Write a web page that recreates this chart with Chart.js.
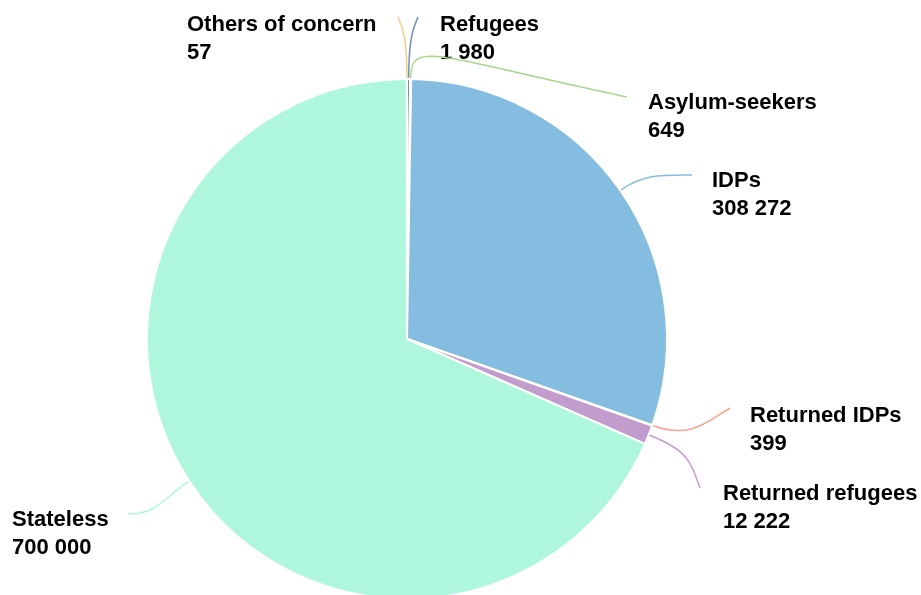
<!DOCTYPE html>
<html>
<head>
<meta charset="utf-8">
<script src="https://cdn.jsdelivr.net/npm/chart.js@4"></script>
<style>
  html, body { margin: 0; padding: 0; background: #fff; overflow: hidden; }
  canvas { display: block; }
</style>
</head>
<body>
<canvas id="pie" width="921" height="621"></canvas>
<script>
// population groups, clockwise from 12 o'clock
const categories = ['Refugees', 'Asylum-seekers', 'IDPs', 'Returned IDPs', 'Returned refugees', 'Stateless', 'Others of concern'];
const values = [1980, 649, 308272, 399, 12222, 700000, 57];
const colors = ['#7094b4', '#a8d68e', '#85bde0', '#f6a394', '#c29ccc', '#aef7dc', '#f3cf84'];

// where each label sits and how its leader line ends (layout only)
const labelLayout = [
    { tx: 440, ty: 31,  ex: 418, ey: 17,  dx: 0.45, dy: -1,  k1: 42, k2: 10 },
    { tx: 648, ty: 109, ex: 627, ey: 97,  dx: 0.98, dy: 0.21, k1: 38, k2: 200 },
    { tx: 712, ty: 187, ex: 692, ey: 175, dx: 1,    dy: 0,   k1: 28, k2: 30 },
    { tx: 750, ty: 422, ex: 730, ey: 408, dx: 1,    dy: -0.6, k1: 40, k2: 28 },
    { tx: 723, ty: 500, ex: 700, ey: 488, dx: 0.35, dy: 1,   k1: 40, k2: 30 },
    { tx: 12,  ty: 526, ex: 128, ey: 514, dx: -1,   dy: 0,   k1: 30, k2: 30 },
    { tx: 187, ty: 31,  ex: 398, ey: 17,  dx: -0.45, dy: -1, k1: 42, k2: 10 }
];

function fmt(n) {
    return String(n).replace(/\B(?=(\d{3})+(?!\d))/g, ' ');
}

const pieLabels = {
    id: 'pieLabels',
    afterDatasetsDraw(chart) {
        const ctx = chart.ctx;
        const meta = chart.getDatasetMeta(0);
        meta.data.forEach((arc, i) => {
            const p = arc.getProps(['x', 'y', 'startAngle', 'endAngle', 'outerRadius'], true);
            const mid = (p.startAngle + p.endAngle) / 2;
            const ux = Math.cos(mid), uy = Math.sin(mid);
            const sx = p.x + ux * (p.outerRadius + 1);
            const sy = p.y + uy * (p.outerRadius + 1);
            const L = labelLayout[i];
            const len = Math.hypot(L.dx, L.dy);
            const dx = L.dx / len, dy = L.dy / len;

            ctx.save();
            ctx.strokeStyle = colors[i];
            ctx.lineWidth = 1.5;
            ctx.beginPath();
            ctx.moveTo(sx, sy);
            ctx.bezierCurveTo(sx + ux * L.k1, sy + uy * L.k1,
                              L.ex - dx * L.k2, L.ey - dy * L.k2,
                              L.ex, L.ey);
            ctx.stroke();

            ctx.font = 'bold 22px "Liberation Sans", Arial, sans-serif';
            ctx.textAlign = 'left';
            ctx.textBaseline = 'alphabetic';
            ctx.lineJoin = 'round';
            ctx.lineWidth = 3;
            ctx.strokeStyle = 'rgba(255,255,255,0.9)';
            ctx.fillStyle = '#000';
            const lines = [categories[i], fmt(values[i])];
            lines.forEach((t, j) => {
                ctx.strokeText(t, L.tx, L.ty + j * 28);
                ctx.fillText(t, L.tx, L.ty + j * 28);
            });
            ctx.restore();
        });
    }
};

new Chart(document.getElementById('pie'), {
    type: 'pie',
    data: {
        labels: categories,
        datasets: [{
            data: values,
            backgroundColor: colors,
            borderColor: '#fff',
            borderWidth: 2
        }]
    },
    options: {
        responsive: false,
        animation: false,
        layout: { padding: { top: 78, left: 146, right: 253, bottom: 21 } },
        plugins: {
            legend: { display: false },
            tooltip: { enabled: false }
        }
    },
    plugins: [pieLabels]
});
</script>
</body>
</html>
